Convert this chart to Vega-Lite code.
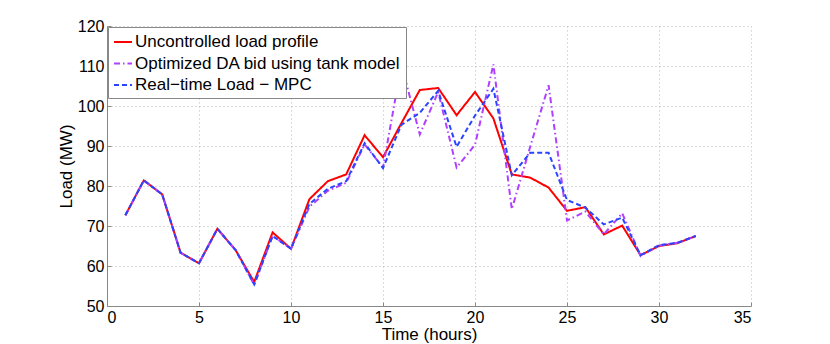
{
  "$schema": "https://vega.github.io/schema/vega-lite/v6.json",
  "width": 644,
  "height": 280,
  "autosize": {"type": "none"},
  "padding": {"left": 107, "top": 26, "right": 79, "bottom": 38},
  "background": "white",
  "config": {
    "view": {"stroke": null},
    "font": "Liberation Sans",
    "axis": {
      "labelFont": "Liberation Sans",
      "titleFont": "Liberation Sans",
      "labelFontSize": 16,
      "titleFontSize": 17,
      "titleFontWeight": "normal",
      "labelColor": "black",
      "titleColor": "black",
      "domainColor": "#888888",
      "tickColor": "#888888",
      "gridColor": "#b8b8b8",
      "gridDash": [1, 3],
      "gridWidth": 1
    }
  },
  "data": {
    "values": [
      {"h": 1, "v": 72.7, "s": "Uncontrolled load profile"},
      {"h": 2, "v": 81.4, "s": "Uncontrolled load profile"},
      {"h": 3, "v": 77.9, "s": "Uncontrolled load profile"},
      {"h": 4, "v": 63.3, "s": "Uncontrolled load profile"},
      {"h": 5, "v": 60.7, "s": "Uncontrolled load profile"},
      {"h": 6, "v": 69.3, "s": "Uncontrolled load profile"},
      {"h": 7, "v": 63.9, "s": "Uncontrolled load profile"},
      {"h": 8, "v": 56.0, "s": "Uncontrolled load profile"},
      {"h": 9, "v": 68.4, "s": "Uncontrolled load profile"},
      {"h": 10, "v": 64.3, "s": "Uncontrolled load profile"},
      {"h": 11, "v": 76.7, "s": "Uncontrolled load profile"},
      {"h": 12, "v": 81.2, "s": "Uncontrolled load profile"},
      {"h": 13, "v": 82.9, "s": "Uncontrolled load profile"},
      {"h": 14, "v": 92.7, "s": "Uncontrolled load profile"},
      {"h": 15, "v": 87.2, "s": "Uncontrolled load profile"},
      {"h": 16, "v": 95.7, "s": "Uncontrolled load profile"},
      {"h": 17, "v": 104.0, "s": "Uncontrolled load profile"},
      {"h": 18, "v": 104.5, "s": "Uncontrolled load profile"},
      {"h": 19, "v": 97.7, "s": "Uncontrolled load profile"},
      {"h": 20, "v": 103.5, "s": "Uncontrolled load profile"},
      {"h": 21, "v": 96.9, "s": "Uncontrolled load profile"},
      {"h": 22, "v": 82.9, "s": "Uncontrolled load profile"},
      {"h": 23, "v": 82.1, "s": "Uncontrolled load profile"},
      {"h": 24, "v": 79.6, "s": "Uncontrolled load profile"},
      {"h": 25, "v": 73.8, "s": "Uncontrolled load profile"},
      {"h": 26, "v": 74.7, "s": "Uncontrolled load profile"},
      {"h": 27, "v": 67.9, "s": "Uncontrolled load profile"},
      {"h": 28, "v": 70.1, "s": "Uncontrolled load profile"},
      {"h": 29, "v": 62.7, "s": "Uncontrolled load profile"},
      {"h": 30, "v": 65.0, "s": "Uncontrolled load profile"},
      {"h": 31, "v": 65.7, "s": "Uncontrolled load profile"},
      {"h": 32, "v": 67.5, "s": "Uncontrolled load profile"},
      {"h": 1, "v": 72.7, "s": "Optimized DA bid using tank model"},
      {"h": 2, "v": 81.4, "s": "Optimized DA bid using tank model"},
      {"h": 3, "v": 77.9, "s": "Optimized DA bid using tank model"},
      {"h": 4, "v": 63.3, "s": "Optimized DA bid using tank model"},
      {"h": 5, "v": 60.7, "s": "Optimized DA bid using tank model"},
      {"h": 6, "v": 69.3, "s": "Optimized DA bid using tank model"},
      {"h": 7, "v": 63.9, "s": "Optimized DA bid using tank model"},
      {"h": 8, "v": 55.3, "s": "Optimized DA bid using tank model"},
      {"h": 9, "v": 67.5, "s": "Optimized DA bid using tank model"},
      {"h": 10, "v": 64.3, "s": "Optimized DA bid using tank model"},
      {"h": 11, "v": 74.8, "s": "Optimized DA bid using tank model"},
      {"h": 12, "v": 78.8, "s": "Optimized DA bid using tank model"},
      {"h": 13, "v": 80.8, "s": "Optimized DA bid using tank model"},
      {"h": 14, "v": 90.4, "s": "Optimized DA bid using tank model"},
      {"h": 15, "v": 84.6, "s": "Optimized DA bid using tank model"},
      {"h": 16, "v": 110.3, "s": "Optimized DA bid using tank model"},
      {"h": 17, "v": 92.9, "s": "Optimized DA bid using tank model"},
      {"h": 18, "v": 103.5, "s": "Optimized DA bid using tank model"},
      {"h": 19, "v": 84.6, "s": "Optimized DA bid using tank model"},
      {"h": 20, "v": 90.3, "s": "Optimized DA bid using tank model"},
      {"h": 21, "v": 110.4, "s": "Optimized DA bid using tank model"},
      {"h": 22, "v": 74.2, "s": "Optimized DA bid using tank model"},
      {"h": 23, "v": 89.8, "s": "Optimized DA bid using tank model"},
      {"h": 24, "v": 105.2, "s": "Optimized DA bid using tank model"},
      {"h": 25, "v": 71.4, "s": "Optimized DA bid using tank model"},
      {"h": 26, "v": 73.6, "s": "Optimized DA bid using tank model"},
      {"h": 27, "v": 67.9, "s": "Optimized DA bid using tank model"},
      {"h": 28, "v": 73.2, "s": "Optimized DA bid using tank model"},
      {"h": 29, "v": 62.5, "s": "Optimized DA bid using tank model"},
      {"h": 30, "v": 65.1, "s": "Optimized DA bid using tank model"},
      {"h": 31, "v": 65.8, "s": "Optimized DA bid using tank model"},
      {"h": 32, "v": 67.5, "s": "Optimized DA bid using tank model"},
      {"h": 1, "v": 72.7, "s": "Real−time Load − MPC"},
      {"h": 2, "v": 81.4, "s": "Real−time Load − MPC"},
      {"h": 3, "v": 77.9, "s": "Real−time Load − MPC"},
      {"h": 4, "v": 63.3, "s": "Real−time Load − MPC"},
      {"h": 5, "v": 60.7, "s": "Real−time Load − MPC"},
      {"h": 6, "v": 69.3, "s": "Real−time Load − MPC"},
      {"h": 7, "v": 63.9, "s": "Real−time Load − MPC"},
      {"h": 8, "v": 55.4, "s": "Real−time Load − MPC"},
      {"h": 9, "v": 67.5, "s": "Real−time Load − MPC"},
      {"h": 10, "v": 64.3, "s": "Real−time Load − MPC"},
      {"h": 11, "v": 75.5, "s": "Real−time Load − MPC"},
      {"h": 12, "v": 79.3, "s": "Real−time Load − MPC"},
      {"h": 13, "v": 81.2, "s": "Real−time Load − MPC"},
      {"h": 14, "v": 90.7, "s": "Real−time Load − MPC"},
      {"h": 15, "v": 84.5, "s": "Real−time Load − MPC"},
      {"h": 16, "v": 95.3, "s": "Real−time Load − MPC"},
      {"h": 17, "v": 98.3, "s": "Real−time Load − MPC"},
      {"h": 18, "v": 103.8, "s": "Real−time Load − MPC"},
      {"h": 19, "v": 89.8, "s": "Real−time Load − MPC"},
      {"h": 20, "v": 97.6, "s": "Real−time Load − MPC"},
      {"h": 21, "v": 104.3, "s": "Real−time Load − MPC"},
      {"h": 22, "v": 82.7, "s": "Real−time Load − MPC"},
      {"h": 23, "v": 88.3, "s": "Real−time Load − MPC"},
      {"h": 24, "v": 88.3, "s": "Real−time Load − MPC"},
      {"h": 25, "v": 76.5, "s": "Real−time Load − MPC"},
      {"h": 26, "v": 74.6, "s": "Real−time Load − MPC"},
      {"h": 27, "v": 70.4, "s": "Real−time Load − MPC"},
      {"h": 28, "v": 72.1, "s": "Real−time Load − MPC"},
      {"h": 29, "v": 62.7, "s": "Real−time Load − MPC"},
      {"h": 30, "v": 65.2, "s": "Real−time Load − MPC"},
      {"h": 31, "v": 65.8, "s": "Real−time Load − MPC"},
      {"h": 32, "v": 67.5, "s": "Real−time Load − MPC"}
    ]
  },
  "mark": {"type": "line", "strokeWidth": 2, "clip": true},
  "encoding": {
    "x": {
      "field": "h",
      "type": "quantitative",
      "scale": {"domain": [0, 35], "nice": false},
      "axis": {"title": "Time (hours)", "values": [0, 5, 10, 15, 20, 25, 30, 35], "tickSize": -4, "labelPadding": 7, "titlePadding": 1}
    },
    "y": {
      "field": "v",
      "type": "quantitative",
      "scale": {"domain": [50, 120], "nice": false, "zero": false},
      "axis": {"title": "Load (MW)", "values": [50, 60, 70, 80, 90, 100, 110, 120], "tickSize": -4, "labelPadding": 7, "titlePadding": 2}
    },
    "color": {
      "field": "s",
      "type": "nominal",
      "sort": null,
      "scale": {
        "domain": ["Uncontrolled load profile", "Optimized DA bid using tank model", "Real−time Load − MPC"],
        "range": ["#ff0000", "#b040ff", "#2a45ff"]
      },
      "legend": {
        "title": null,
        "orient": "none",
        "legendX": 1,
        "legendY": 1,
        "fillColor": "white",
        "strokeColor": "#888888",
        "padding": 5,
        "rowPadding": 3.5,
        "symbolType": "stroke",
        "symbolSize": 324,
        "symbolStrokeWidth": 2,
        "labelFont": "Liberation Sans",
        "labelFontSize": 17,
        "labelColor": "black",
        "labelOffset": 2,
        "labelLimit": 400
      }
    },
    "strokeDash": {
      "field": "s",
      "type": "nominal",
      "sort": null,
      "scale": {
        "domain": ["Uncontrolled load profile", "Optimized DA bid using tank model", "Real−time Load − MPC"],
        "range": [[1, 0], [6, 3, 1.5, 3], [5, 3]]
      },
      "legend": {
        "title": null,
        "orient": "none",
        "legendX": 1,
        "legendY": 1,
        "fillColor": "white",
        "strokeColor": "#888888",
        "padding": 5,
        "rowPadding": 3.5,
        "symbolType": "stroke",
        "symbolSize": 324,
        "symbolStrokeWidth": 2,
        "labelFont": "Liberation Sans",
        "labelFontSize": 17,
        "labelColor": "black",
        "labelOffset": 2,
        "labelLimit": 400
      }
    }
  }
}
